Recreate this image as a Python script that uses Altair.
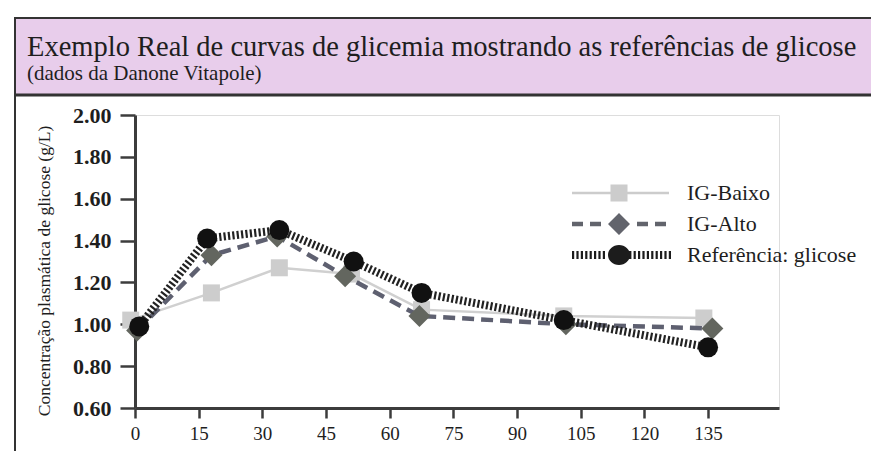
import altair as alt
import pandas as pd

# ---------------- data ----------------
series_names = ["IG-Baixo", "IG-Alto", "Referência: glicose"]

baixo_min = [-1, 18, 34, 51, 67.5, 101, 134]
baixo_val = [1.02, 1.15, 1.27, 1.24, 1.07, 1.04, 1.03]

alto_min = [0.5, 18, 33.5, 49.5, 67, 101.5, 136]
alto_val = [0.97, 1.33, 1.42, 1.23, 1.04, 1.00, 0.98]

ref_min = [1, 17, 34, 51.5, 67.5, 101, 135]
ref_val = [0.99, 1.41, 1.45, 1.30, 1.15, 1.02, 0.89]

x_ticks = [0, 15, 30, 45, 60, 75, 90, 105, 120, 135]
y_ticks = [0.6, 0.8, 1.0, 1.2, 1.4, 1.6, 1.8, 2.0]

title_text = "Exemplo Real de curvas de glicemia mostrando as referências de glicose"
subtitle_text = "(dados da Danone Vitapole)"
y_title = "Concentração plasmática de glicose (g/L)"

# ---------------- build table ----------------
rows = []
for name, ts, vs in [(series_names[0], baixo_min, baixo_val),
                     (series_names[1], alto_min, alto_val),
                     (series_names[2], ref_min, ref_val)]:
    for t, v in zip(ts, vs):
        rows.append({"serie": name, "minutos": t, "valor": v})
df = pd.DataFrame(rows)
one = pd.DataFrame({"k": [0]})

FONT = "Liberation Serif"
INK = "#1e1e1e"
AX = "#3c3c3c"
W, H = 644, 293

xscale = alt.Scale(domain=[0, 151.7], nice=False, zero=False)
yscale = alt.Scale(domain=[0.6, 2.0], nice=False, zero=False)

xaxis = alt.Axis(values=x_ticks, title=None, grid=False, domainColor=AX, domainWidth=3,
                 tickColor=AX, tickWidth=2.5, tickSize=10, labelFont=FONT, labelFontSize=19,
                 labelColor=INK, labelPadding=6, labelFlush=False)
yaxis = alt.Axis(values=y_ticks, format=".2f", title=None, grid=False, domainColor=AX,
                 domainWidth=3, tickColor=AX, tickWidth=2.5, tickSize=15, labelFont=FONT,
                 labelFontSize=22, labelFontWeight="bold", labelColor=INK, labelPadding=9)

X = alt.X("minutos:Q", scale=xscale, axis=xaxis)
Y = alt.Y("valor:Q", scale=yscale, axis=yaxis)

# ---------------- decoration ----------------
band = alt.Chart(one).mark_rect(color="#e8cdeb").encode(
    x=alt.value(-120), x2=alt.value(740), y=alt.value(-97), y2=alt.value(-20))
top_line = alt.Chart(one).mark_rule(color="#333333", strokeWidth=2).encode(
    x=alt.value(-121), x2=alt.value(740), y=alt.value(-97))
band_bottom = alt.Chart(one).mark_rule(color="#333333", strokeWidth=3).encode(
    x=alt.value(-121), x2=alt.value(740), y=alt.value(-20))
left_line = alt.Chart(one).mark_rule(color="#333333", strokeWidth=2).encode(
    x=alt.value(-120), y=alt.value(-98), y2=alt.value(340))

title = alt.Chart(one).mark_text(align="left", baseline="alphabetic", font=FONT,
                                 fontSize=28.5, color=INK).encode(
    x=alt.value(-108), y=alt.value(-59), text=alt.value(title_text))
subtitle = alt.Chart(one).mark_text(align="left", baseline="alphabetic", font=FONT,
                                    fontSize=21, color=INK).encode(
    x=alt.value(-108), y=alt.value(-35), text=alt.value(subtitle_text))
ytitle = alt.Chart(one).mark_text(align="center", baseline="middle", font=FONT,
                                  fontSize=17.5, color=INK, angle=270).encode(
    x=alt.value(-90), y=alt.value(156), text=alt.value(y_title))

# ---------------- data layers ----------------
def sub(name):
    return alt.Chart(df).transform_filter(alt.datum.serie == name)

baixo_line = sub(series_names[0]).mark_line(color="#d0d0d0", strokeWidth=2.5).encode(x=X, y=Y)
baixo_pts = sub(series_names[0]).mark_point(shape="square", filled=True, size=289,
                                            color="#cdcdcd", opacity=1).encode(x=X, y=Y)
alto_line = sub(series_names[1]).mark_line(color="#5e6070", strokeWidth=4.5,
                                           strokeDash=[12, 7]).encode(x=X, y=Y)
alto_pts = sub(series_names[1]).mark_point(shape="diamond", filled=True, size=484,
                                           color="#63665f", opacity=1).encode(x=X, y=Y)
ref_line = sub(series_names[2]).mark_line(color="#222222", strokeWidth=8,
                                          strokeDash=[2.2, 2.2]).encode(x=X, y=Y)
ref_pts = sub(series_names[2]).mark_point(shape="circle", filled=True, size=400,
                                          color="#111111", opacity=1).encode(x=X, y=Y)

# ---------------- legend (native legend, custom symbol paths) ----------------
def rect(x0, x1, y0, y1):
    return f"M{x0},{y0}H{x1}V{y1}H{x0}Z"

p_baixo = rect(-47, 50, -1.3, 1.3) + rect(-8.5, 8.5, -8.5, 8.5)
p_alto = (rect(-47, -36, -2.2, 2.2) + rect(-29, -18, -2.2, 2.2) + "M0,-11L11,0L0,11L-11,0Z"
          + rect(18, 29, -2.2, 2.2) + rect(36, 47, -2.2, 2.2))
stripes = ""
xs = -47.0
while xs < 50:
    if xs + 2.2 < -10 or xs > 10:
        stripes += rect(round(xs, 2), round(xs + 2.2, 2), -4, 4)
    xs += 4.4
p_ref = stripes + "M-11,0A11,10 0 1,1 11,0A11,10 0 1,1 -11,0Z"

leg = alt.Legend(title=None, orient="none", legendX=473, legendY=67, labelFont=FONT,
                 labelFontSize=22, labelColor=INK, symbolSize=4, symbolStrokeWidth=0,
                 rowPadding=9, labelOffset=57, labelLimit=400, symbolOpacity=1)
legend_layer = alt.Chart(df).mark_point(filled=True, opacity=1, size=4, strokeWidth=0).encode(
    x=X, y=Y,
    shape=alt.Shape("serie:N", scale=alt.Scale(domain=series_names,
                                                range=[p_baixo, p_alto, p_ref]), legend=leg),
    color=alt.Color("serie:N", scale=alt.Scale(domain=series_names,
                                                range=["#cccccc", "#62646c", "#1c1c1c"]),
                    legend=leg),
).transform_filter("false")

chart = alt.layer(
    band, top_line, band_bottom, left_line, title, subtitle, ytitle,
    baixo_line, baixo_pts, alto_line, alto_pts, ref_line, ref_pts, legend_layer
).properties(
    width=W, height=H,
    padding={"left": 127, "top": 107, "right": 92, "bottom": 43},
    autosize=alt.AutoSizeParams(type="none"),
).configure_view(stroke=None).configure(background="white")

chart.save("out.html", embed_options={"renderer": "svg", "actions": False})
